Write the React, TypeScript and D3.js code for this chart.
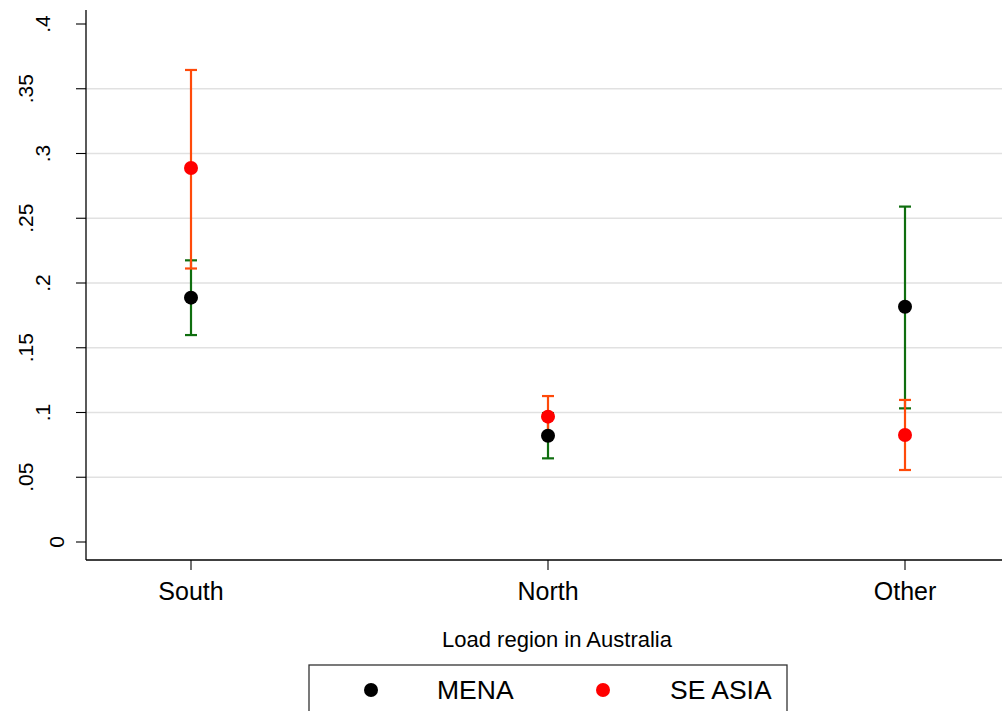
import React from "react";
import * as d3 from "d3";

// Load regions along the x axis
const regions = ["South", "North", "Other"];

// Point estimates and 95% confidence bounds per region
const menaEstimate = [0.1887, 0.0821, 0.1817];
const menaLower = [0.1598, 0.0646, 0.1032];
const menaUpper = [0.2175, 0.0995, 0.259];

const seAsiaEstimate = [0.2888, 0.0968, 0.0826];
const seAsiaLower = [0.2112, 0.081, 0.0556];
const seAsiaUpper = [0.3645, 0.1127, 0.1097];

const yTicks = [0, 0.05, 0.1, 0.15, 0.2, 0.25, 0.3, 0.35, 0.4];
const yTickLabels = ["0", ".05", ".1", ".15", ".2", ".25", ".3", ".35", ".4"];

const W = 1002;
const H = 711;
const axisX = 86;
const axisY = 560;
const FONT = "'Liberation Sans', Arial, sans-serif";

// vertical labels sit further from the axis the longer they are
const labelBaseline = (s: string) => [64, 50, 33][Math.min(s.length, 3) - 1];

const series = [
  { name: "MENA", est: menaEstimate, lo: menaLower, hi: menaUpper, ci: "#0f6e0f", dot: "#000000" },
  { name: "SE ASIA", est: seAsiaEstimate, lo: seAsiaLower, hi: seAsiaUpper, ci: "#ff4a0a", dot: "#ff0000" },
];

export default function App() {
  const x = d3.scalePoint<string>().domain(regions).range([191, 905]);
  const y = d3.scaleLinear().domain([0, 0.4]).range([542, 24]);
  const cap = 6;

  return (
    <svg
      width={W}
      height={H}
      style={{ position: "absolute", left: 0, top: 0, background: "#fff" }}
      fontFamily={FONT}
    >
      {/* horizontal grid */}
      {yTicks
        .filter((t) => t > 0 && t < 0.4)
        .map((t) => (
          <line key={"g" + t} x1={axisX} x2={W} y1={y(t)} y2={y(t)} stroke="#e1e1e1" strokeWidth={1.3} />
        ))}

      {/* y axis */}
      <line x1={axisX} x2={axisX} y1={10} y2={axisY} stroke="#000" strokeWidth={1.3} />
      {yTicks.map((t, i) => (
        <g key={"yt" + t}>
          <line x1={axisX - 10} x2={axisX} y1={y(t)} y2={y(t)} stroke="#000" strokeWidth={1.1} />
          <text
            transform={`translate(${labelBaseline(yTickLabels[i])},${y(t)}) rotate(-90)`}
            textAnchor="middle"
            fontSize={21}
            fill="#000"
          >
            {yTickLabels[i]}
          </text>
        </g>
      ))}

      {/* x axis */}
      <line x1={axisX} x2={W} y1={axisY} y2={axisY} stroke="#000" strokeWidth={1.3} />
      {regions.map((r) => (
        <g key={"xt" + r}>
          <line x1={x(r)} x2={x(r)} y1={axisY} y2={axisY + 10} stroke="#000" strokeWidth={1.1} />
          <text x={x(r)} y={600} textAnchor="middle" fontSize={25} fill="#000">
            {r}
          </text>
        </g>
      ))}
      <text x={557} y={647} textAnchor="middle" fontSize={22} fill="#000">
        Load region in Australia
      </text>

      {/* confidence intervals */}
      {series.map((s) =>
        regions.map((r, i) => {
          const cx = x(r) as number;
          return (
            <g key={s.name + r + "ci"} stroke={s.ci} strokeWidth={2.2}>
              <line x1={cx} x2={cx} y1={y(s.lo[i])} y2={y(s.hi[i])} />
              <line x1={cx - cap} x2={cx + cap} y1={y(s.lo[i])} y2={y(s.lo[i])} />
              <line x1={cx - cap} x2={cx + cap} y1={y(s.hi[i])} y2={y(s.hi[i])} />
            </g>
          );
        })
      )}

      {/* point estimates */}
      {series.map((s) =>
        regions.map((r, i) => (
          <circle key={s.name + r + "pt"} cx={x(r)} cy={y(s.est[i])} r={7} fill={s.dot} />
        ))
      )}

      {/* legend */}
      <rect x={309} y={665} width={478} height={60} fill="#fff" stroke="#333" strokeWidth={1.3} />
      <circle cx={371} cy={690} r={7} fill={series[0].dot} />
      <text x={437} y={699} fontSize={26.5} fill="#000">
        {series[0].name}
      </text>
      <circle cx={603} cy={690} r={7} fill={series[1].dot} />
      <text x={670} y={699} fontSize={26.5} fill="#000">
        {series[1].name}
      </text>
    </svg>
  );
}
